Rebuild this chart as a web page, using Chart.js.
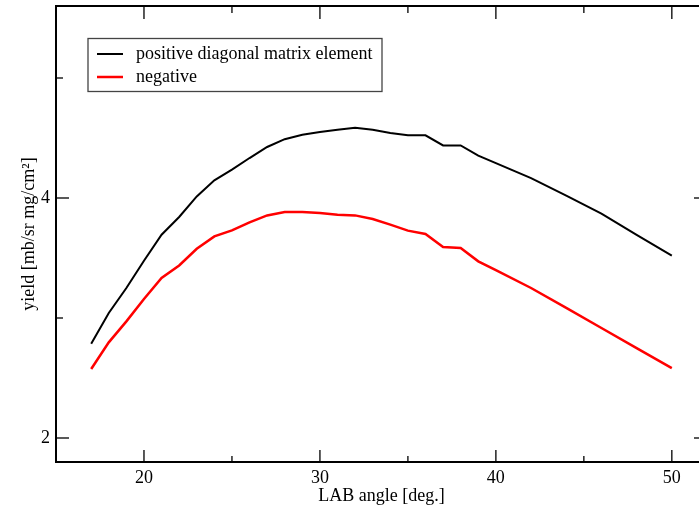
<!DOCTYPE html>
<html>
<head>
<meta charset="utf-8">
<script src="https://cdn.jsdelivr.net/npm/chart.js@4/dist/chart.umd.min.js"></script>
<style>
  html, body { margin: 0; padding: 0; background: #fff; overflow: hidden; }
  #wrap { width: 712px; height: 508px; }
</style>
</head>
<body>
<div id="wrap"><canvas id="yieldChart" width="712" height="508"></canvas></div>
<script>
const angles = [17, 18, 19, 20, 21, 22, 23, 24, 25, 26, 27, 28, 29, 30, 31, 32, 33, 34, 35, 36, 37, 38, 39, 40, 42, 44, 46, 48, 50];
const positive = [2.786, 3.042, 3.25, 3.477, 3.694, 3.842, 4.013, 4.147, 4.236, 4.333, 4.425, 4.49, 4.527, 4.55, 4.569, 4.585, 4.569, 4.541, 4.522, 4.522, 4.438, 4.438, 4.353, 4.29, 4.166, 4.019, 3.869, 3.692, 3.519];
const negative = [2.575, 2.797, 2.972, 3.158, 3.333, 3.438, 3.577, 3.68, 3.73, 3.797, 3.855, 3.883, 3.883, 3.875, 3.861, 3.855, 3.825, 3.778, 3.728, 3.7, 3.592, 3.583, 3.472, 3.398, 3.25, 3.085, 2.917, 2.749, 2.583];
const xMajor = [20, 30, 40, 50];
const xMinor = [25, 35, 45];
const yMajor = [2, 4];
const yMinor = [3, 5];

const FONT = "'Liberation Serif', 'Times New Roman', serif";
const toPts = ys => angles.map((a, i) => ({ x: a, y: ys[i] }));

// frame + inward ticks on all four sides, like xmgrace
const framePlugin = {
  id: 'frame',
  afterDraw(chart) {
    const { ctx, chartArea: a, scales: { x, y } } = chart;
    ctx.save();
    ctx.strokeStyle = '#222';
    ctx.lineWidth = 1.5;
    const tick = (x1, y1, x2, y2) => { ctx.beginPath(); ctx.moveTo(x1, y1); ctx.lineTo(x2, y2); ctx.stroke(); };
    xMajor.forEach(v => { const p = x.getPixelForValue(v); tick(p, a.bottom, p, a.bottom - 12); tick(p, a.top, p, a.top + 13); });
    xMinor.forEach(v => { const p = x.getPixelForValue(v); tick(p, a.bottom, p, a.bottom - 6); tick(p, a.top, p, a.top + 7); });
    yMajor.forEach(v => { const p = y.getPixelForValue(v); tick(a.left, p, a.left + 13, p); tick(a.right, p, a.right - 13, p); });
    yMinor.forEach(v => { const p = y.getPixelForValue(v); tick(a.left, p, a.left + 7, p); tick(a.right, p, a.right - 7, p); });
    ctx.strokeStyle = '#000';
    ctx.lineWidth = 2;
    ctx.strokeRect(a.left, a.top, a.right - a.left, a.bottom - a.top);
    ctx.restore();
  }
};

// legend box inside the plot
const boxLegend = {
  id: 'boxLegend',
  afterDraw(chart) {
    const { ctx, chartArea: a } = chart;
    const bx = a.left + 32, by = a.top + 32.5, bw = 294, bh = 53;
    ctx.save();
    ctx.fillStyle = '#fff';
    ctx.fillRect(bx, by, bw, bh);
    ctx.strokeStyle = '#444';
    ctx.lineWidth = 1.3;
    ctx.strokeRect(bx, by, bw, bh);
    ctx.font = '18px ' + FONT;
    ctx.textBaseline = 'middle';
    chart.data.datasets.forEach((ds, i) => {
      const ly = by + 15.5 + i * 23;
      ctx.strokeStyle = ds.borderColor;
      ctx.lineWidth = ds.borderWidth;
      ctx.beginPath(); ctx.moveTo(bx + 9, ly); ctx.lineTo(bx + 35, ly); ctx.stroke();
      ctx.fillStyle = '#000';
      ctx.fillText(ds.label, bx + 48, ly);
    });
    ctx.restore();
  }
};

new Chart(document.getElementById('yieldChart'), {
  type: 'scatter',
  data: {
    datasets: [
      { label: 'positive diagonal matrix element', data: toPts(positive), borderColor: '#000', borderWidth: 2, showLine: true, pointRadius: 0, tension: 0 },
      { label: 'negative', data: toPts(negative), borderColor: '#ff0000', borderWidth: 2.5, showLine: true, pointRadius: 0, tension: 0 }
    ]
  },
  options: {
    responsive: false,
    animation: false,
    layout: { padding: { top: 6, right: 5, left: 0, bottom: 0 } },
    plugins: { legend: { display: false }, tooltip: { enabled: false } },
    scales: {
      x: {
        type: 'linear', min: 15, max: 52,
        afterBuildTicks: s => { s.ticks = xMajor.map(v => ({ value: v })); },
        afterFit: s => { s.height = 46; s.paddingLeft = 0; s.paddingRight = 0; },
        grid: { display: false, drawTicks: false }, border: { display: false },
        ticks: { color: '#000', font: { family: FONT, size: 18 }, padding: 5, maxRotation: 0 },
        title: { display: true, text: 'LAB angle [deg.]', color: '#000', font: { family: FONT, size: 18 }, padding: { top: 0, bottom: 1 } }
      },
      y: {
        type: 'linear', min: 1.8, max: 5.6,
        afterBuildTicks: s => { s.ticks = yMajor.map(v => ({ value: v })); },
        afterFit: s => { s.width = 56; s.paddingTop = 0; s.paddingBottom = 0; },
        grid: { display: false, drawTicks: false }, border: { display: false },
        ticks: { color: '#000', font: { family: FONT, size: 18 }, padding: 6 },
        title: { display: true, text: 'yield [mb/sr mg/cm²]', color: '#000', font: { family: FONT, size: 18 }, padding: { top: 18, bottom: 0 } }
      }
    }
  },
  plugins: [framePlugin, boxLegend]
});
</script>
</body>
</html>
